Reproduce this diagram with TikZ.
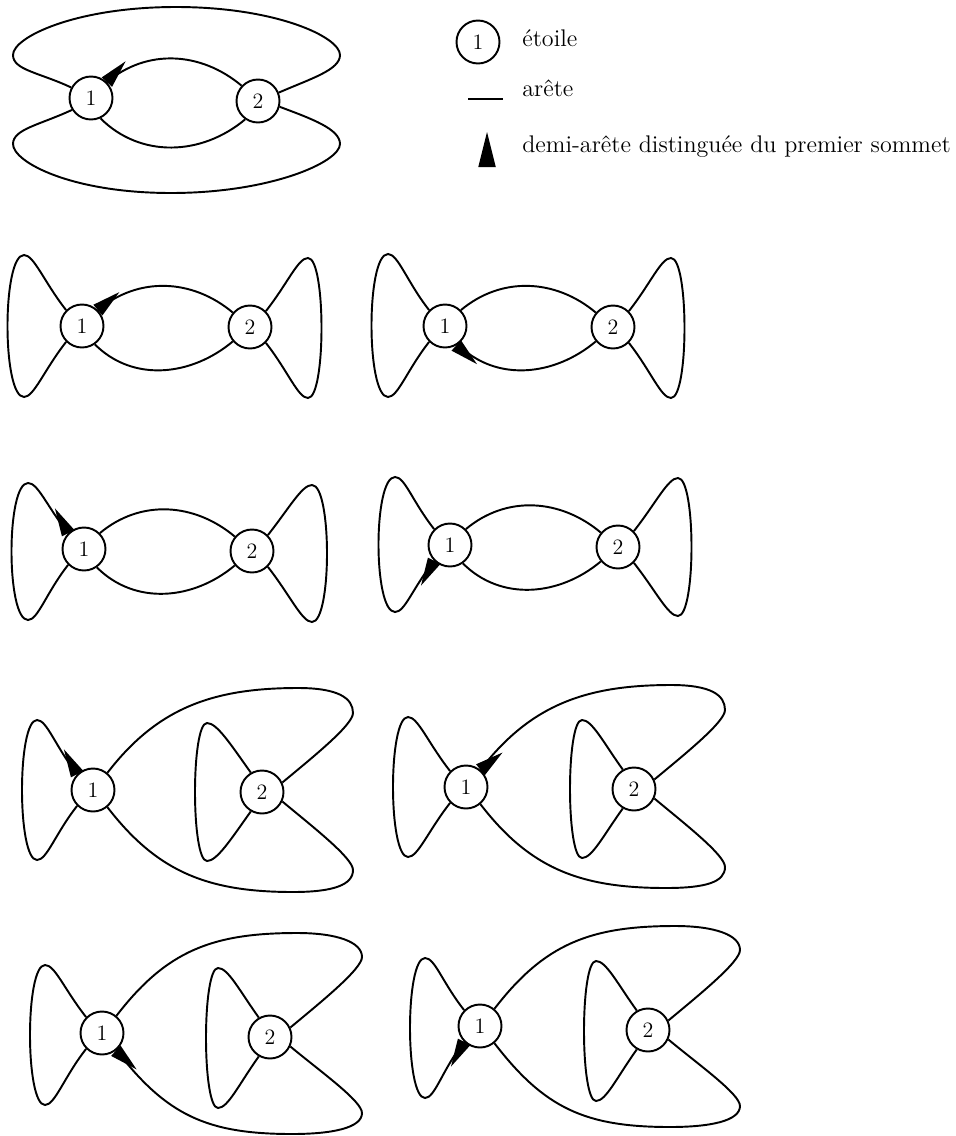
\documentclass[tikz,border=0pt]{standalone}
\usepackage{tikz}
\usetikzlibrary{positioning}
\tikzset{
  etoile/.style = {draw, circle, line width=1.1pt, minimum size=0.86cm,
                   inner sep=0pt, font=\fontsize{12.5}{14}\selectfont},
  arete/.style  = {line width=1.1pt},
  legtxt/.style = {anchor=base west, inner sep=0pt,
                   font=\fontsize{13.7}{16}\selectfont},
  demi/.pic     = {\fill (0,-7) -- (28,0) -- (0,7) -- cycle;}
}

\begin{document}
\begin{tikzpicture}[x=0.02cm, y=0.02cm]
  \useasboundingbox (0,0) rectangle (956,-1136);

  % legende
  \node[etoile] (lgstar) at (478,-42) {1};
  \node[legtxt] (lgetoile) at (522,-46) {étoile};
  \coordinate (lgl) at (468,-99);
  \coordinate (lgr) at (503,-99);
  \draw[arete] (lgl) -- (lgr);
  \node[legtxt] (lgarete) at (522,-96) {arête};
  \coordinate (lgw) at (487,-167);
  \pic[rotate=90, scale=1.25] at (lgw) {demi};
  \node[legtxt] (lgdemi) at (522,-152) {demi-arête distinguée du premier sommet};

  % deux boucles exterieures
  \begin{scope}[shift={(91,-98)}]
    \node[etoile] (a1) at (0,0) {1};
    \node[etoile] (a2) at (167,-3) {2};
    \draw[arete] (a1.45) to[out=40,in=140] (a2.137);
    \draw[arete] (a1.-65) to[out=-45,in=-140] (a2.-125);
    \draw[arete] (a1.152) .. controls +(-32,15) and +(0,-15) .. (-78,43)
       .. controls +(0,18) and +(-100,0) .. (85,91)
       .. controls +(100,0) and +(0,18) .. (249,43)
       .. controls +(0,-15) and +(32,14) .. (a2.22);
    \draw[arete] (a1.-148) .. controls +(-32,-15) and +(0,15) .. (-78,-46)
       .. controls +(0,-18) and +(-100,0) .. (80,-95)
       .. controls +(100,0) and +(0,-18) .. (249,-46)
       .. controls +(0,15) and +(32,-12) .. (a2.-15);
    \pic[rotate=48] at (a1.45) {demi};
  \end{scope}

  % noeuds papillon
  \begin{scope}[shift={(82,-326)}]
    \node[etoile] (b1) at (0,0) {1};
    \node[etoile] (b2) at (168,-1) {2};
    \draw[arete] (b1.45) to[out=40,in=140] (b2.140);
    \draw[arete] (b1.-55) to[out=-45,in=-140] (b2.-140);
    \draw[arete] (b1.135) .. controls +(-22,28) and +(10,0) .. (-58,71)
       .. controls +(-22,0) and +(-22,0) .. (-58,-71)
       .. controls +(10,0) and +(-22,-28) .. (b1.-135);
    \draw[arete] (b2.45) .. controls +(22,28) and +(-10,0) .. (226,68)
       .. controls +(18,0) and +(18,0) .. (226,-72)
       .. controls +(-10,0) and +(22,-28) .. (b2.-45);
    \pic[rotate=40] at (b1.45) {demi};
  \end{scope}

  \begin{scope}[shift={(445,-326)}]
    \node[etoile] (c1) at (0,0) {1};
    \node[etoile] (c2) at (168,-1) {2};
    \draw[arete] (c1.45) to[out=40,in=140] (c2.140);
    \draw[arete] (c1.-55) to[out=-45,in=-140] (c2.-140);
    \draw[arete] (c1.135) .. controls +(-22,28) and +(10,0) .. (-57,72)
       .. controls +(-22,0) and +(-22,0) .. (-57,-71)
       .. controls +(10,0) and +(-22,-28) .. (c1.-135);
    \draw[arete] (c2.45) .. controls +(22,28) and +(-10,0) .. (226,68)
       .. controls +(18,0) and +(18,0) .. (226,-72)
       .. controls +(-10,0) and +(22,-28) .. (c2.-45);
    \pic[rotate=-42] at (c1.-60) {demi};
  \end{scope}

  \begin{scope}[shift={(84,-549)}]
    \node[etoile] (d1) at (0,0) {1};
    \node[etoile] (d2) at (168,-2) {2};
    \draw[arete] (d1.45) to[out=40,in=140] (d2.140);
    \draw[arete] (d1.-55) to[out=-45,in=-140] (d2.-140);
    \draw[arete] (d1.135) .. controls +(-22,28) and +(10,0) .. (-56,66)
       .. controls +(-22,0) and +(-22,0) .. (-56,-71)
       .. controls +(10,0) and +(-22,-28) .. (d1.-135);
    \draw[arete] (d2.45) .. controls +(22,28) and +(-10,0) .. (228,64)
       .. controls +(20,0) and +(20,0) .. (228,-73)
       .. controls +(-10,0) and +(22,-28) .. (d2.-45);
    \pic[rotate=118] at (d1.135) {demi};
  \end{scope}

  \begin{scope}[shift={(450,-545)}]
    \node[etoile] (e1) at (0,0) {1};
    \node[etoile] (e2) at (168,-2) {2};
    \draw[arete] (e1.45) to[out=40,in=140] (e2.140);
    \draw[arete] (e1.-55) to[out=-45,in=-140] (e2.-140);
    \draw[arete] (e1.135) .. controls +(-22,28) and +(10,0) .. (-55,68)
       .. controls +(-22,0) and +(-22,0) .. (-55,-67)
       .. controls +(10,0) and +(-22,-28) .. (e1.-135);
    \draw[arete] (e2.45) .. controls +(22,28) and +(-10,0) .. (228,67)
       .. controls +(18,0) and +(18,0) .. (228,-71)
       .. controls +(-10,0) and +(22,-28) .. (e2.-45);
    \pic[rotate=-118] at (e1.-135) {demi};
  \end{scope}

  % boucle de 2 a l'interieur
  \begin{scope}[shift={(93,-790)}]
    \node[etoile] (f1) at (0,0) {1};
    \node[etoile] (f2) at (169,-2) {2};
    \draw[arete] (f1.135) .. controls +(-22,28) and +(10,0) .. (-56,70)
       .. controls +(-20,0) and +(-20,0) .. (-56,-70)
       .. controls +(10,0) and +(-22,-28) .. (f1.-135);
    \draw[arete] (f2.120) .. controls +(-20,28) and +(10,0) .. (114,67)
       .. controls +(-16,0) and +(-16,0) .. (114,-71)
       .. controls +(10,0) and +(-20,-28) .. (f2.-120);
    \draw[arete] (f1.50) .. controls +(50,65) and +(-85,0) .. (205,102)
       .. controls +(40,0) and +(0,15) .. (260,77)
       .. controls +(0,-12) and +(30,25) .. (f2.25);
    \draw[arete] (f1.-50) .. controls +(50,-65) and +(-85,0) .. (200,-102)
       .. controls +(40,0) and +(0,-15) .. (260,-80)
       .. controls +(0,12) and +(30,-25) .. (f2.-25);
    \pic[rotate=118] at (f1.135) {demi};
  \end{scope}

  \begin{scope}[shift={(466,-787)}]
    \node[etoile] (g1) at (0,0) {1};
    \node[etoile] (g2) at (168,-2) {2};
    \draw[arete] (g1.135) .. controls +(-22,28) and +(10,0) .. (-58,70)
       .. controls +(-20,0) and +(-20,0) .. (-58,-70)
       .. controls +(10,0) and +(-22,-28) .. (g1.-135);
    \draw[arete] (g2.120) .. controls +(-20,28) and +(10,0) .. (116,67)
       .. controls +(-16,0) and +(-16,0) .. (116,-71)
       .. controls +(10,0) and +(-20,-28) .. (g2.-120);
    \draw[arete] (g1.50) .. controls +(50,65) and +(-85,0) .. (205,102)
       .. controls +(40,0) and +(0,15) .. (259,77)
       .. controls +(0,-12) and +(30,25) .. (g2.25);
    \draw[arete] (g1.-50) .. controls +(50,-65) and +(-85,0) .. (200,-101)
       .. controls +(40,0) and +(0,-15) .. (259,-80)
       .. controls +(0,12) and +(30,-25) .. (g2.-25);
    \pic[rotate=38] at (g1.50) {demi};
  \end{scope}

  \begin{scope}[shift={(102,-1033)}]
    \node[etoile] (h1) at (0,0) {1};
    \node[etoile] (h2) at (168,-4) {2};
    \draw[arete] (h1.135) .. controls +(-22,28) and +(10,0) .. (-57,68)
       .. controls +(-20,0) and +(-20,0) .. (-57,-72)
       .. controls +(10,0) and +(-22,-28) .. (h1.-135);
    \draw[arete] (h2.120) .. controls +(-20,28) and +(10,0) .. (116,65)
       .. controls +(-16,0) and +(-16,0) .. (116,-75)
       .. controls +(10,0) and +(-20,-28) .. (h2.-120);
    \draw[arete] (h1.50) .. controls +(50,65) and +(-85,0) .. (195,100)
       .. controls +(40,0) and +(0,15) .. (260,76)
       .. controls +(0,-12) and +(30,25) .. (h2.25);
    \draw[arete] (h1.-50) .. controls +(50,-65) and +(-85,0) .. (190,-101)
       .. controls +(40,0) and +(0,-15) .. (260,-80)
       .. controls +(0,12) and +(30,-25) .. (h2.-25);
    \pic[rotate=-42] at (h1.-52) {demi};
  \end{scope}

  \begin{scope}[shift={(480,-1026)}]
    \node[etoile] (i1) at (0,0) {1};
    \node[etoile] (i2) at (168,-4) {2};
    \draw[arete] (i1.135) .. controls +(-22,28) and +(10,0) .. (-55,68)
       .. controls +(-20,0) and +(-20,0) .. (-55,-72)
       .. controls +(10,0) and +(-22,-28) .. (i1.-135);
    \draw[arete] (i2.120) .. controls +(-20,28) and +(10,0) .. (116,65)
       .. controls +(-16,0) and +(-16,0) .. (116,-75)
       .. controls +(10,0) and +(-20,-28) .. (i2.-120);
    \draw[arete] (i1.50) .. controls +(50,65) and +(-85,0) .. (195,100)
       .. controls +(40,0) and +(0,15) .. (260,76)
       .. controls +(0,-12) and +(30,25) .. (i2.25);
    \draw[arete] (i1.-50) .. controls +(50,-65) and +(-85,0) .. (190,-101)
       .. controls +(40,0) and +(0,-15) .. (260,-80)
       .. controls +(0,12) and +(30,-25) .. (i2.-25);
    \pic[rotate=-118] at (i1.-135) {demi};
  \end{scope}
\end{tikzpicture}
\end{document}
